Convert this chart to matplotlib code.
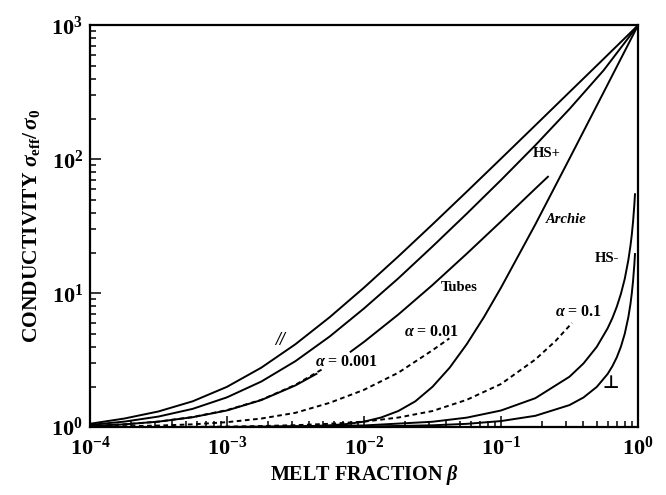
import numpy as np
import matplotlib
matplotlib.use("Agg")
import matplotlib.pyplot as plt
from matplotlib.ticker import FixedLocator, FixedFormatter, LogLocator, NullFormatter

plt.rcParams['font.family'] = ['Liberation Serif', 'DejaVu Serif']
plt.rcParams['font.weight'] = 'bold'
plt.rcParams['mathtext.fontset'] = 'custom'
plt.rcParams['mathtext.rm'] = 'Liberation Serif:bold'
plt.rcParams['mathtext.it'] = 'Liberation Serif:italic:bold'
plt.rcParams['mathtext.bf'] = 'Liberation Serif:bold'

# quarter-decade melt fractions
beta_grid = [1e-4, 1.78e-4, 3.16e-4, 5.62e-4, 1e-3, 1.78e-3, 3.16e-3, 5.62e-3,
             1e-2, 1.78e-2, 3.16e-2, 5.62e-2, 0.1, 0.178, 0.316, 0.562, 1.0]

parallel = [1.06, 1.16, 1.31, 1.56, 2.00, 2.78, 4.16, 6.62,
            11.0, 18.8, 32.6, 57.2, 101, 179, 317, 562, 1000]
hs_plus = [1.04, 1.10, 1.20, 1.37, 1.67, 2.19, 3.11, 4.75,
           7.69, 12.9, 22.3, 39.2, 69.9, 127, 237, 462, 1000]

# tubes line is broken where the alpha=0.001 label sits
tubes_beta = [1e-4, 1.78e-4, 3.16e-4, 5.62e-4, 1e-3, 1.78e-3, 3.16e-3, 4.5e-3, 6e-3,
              8e-3, 1e-2, 1.78e-2, 3.16e-2, 5.62e-2, 0.1, 0.178, 0.22]
tubes = [1.02, 1.05, 1.10, 1.187, 1.333, 1.593, 2.05, 2.5, np.nan,
         3.66, 4.33, 6.93, 11.5, 19.7, 34.3, 60.3, 74.0]

archie_beta = [1e-3, 1.78e-3, 3.16e-3, 5.62e-3, 7.5e-3, 1e-2, 1.33e-2, 1.78e-2, 2.37e-2,
               3.16e-2, 4.22e-2, 5.62e-2, 7.5e-2, 0.1, 0.178, 0.316, 0.562, 1.0]
archie = [1.001, 1.003, 1.01, 1.032, 1.056, 1.10, 1.18, 1.32, 1.56,
          2.00, 2.78, 4.16, 6.62, 11.0, 32.6, 101, 317, 1000]

hs_beta = [1e-3, 1e-2, 3.16e-2, 5.62e-2, 0.1, 0.178, 0.316, 0.4, 0.5, 0.6, 0.65,
           0.7, 0.75, 0.8, 0.85, 0.88, 0.9, 0.92, 0.94, 0.95]
hs_minus = [1.003, 1.03, 1.098, 1.178, 1.332, 1.646, 2.38, 2.99, 3.98, 5.47, 6.52,
            7.93, 9.89, 12.8, 17.7, 22.5, 27.2, 34.2, 45.8, 54.8]
series_perp = [1.0, 1.01, 1.033, 1.059, 1.111, 1.216, 1.462, 1.666, 1.998, 2.496, 2.852,
               3.324, 3.988, 4.98, 6.63, 8.27, 9.92, 12.36, 16.4, 19.6]

a001_beta = [1e-4, 1.78e-4, 3.16e-4, 5.62e-4, 1e-3, 1.78e-3, 3.16e-3, 5e-3]
a001 = [1.02, 1.05, 1.10, 1.19, 1.34, 1.60, 2.07, 2.72]

a01_beta = [1e-4, 1.78e-4, 3.16e-4, 5.62e-4, 1e-3, 1.78e-3, 3.16e-3, 5.62e-3,
            1e-2, 1.78e-2, 3.16e-2, 4.2e-2]
a01 = [1.01, 1.016, 1.028, 1.05, 1.09, 1.16, 1.28, 1.52, 1.9, 2.55, 3.75, 4.6]

a1_beta = [5.62e-4, 1e-3, 1.78e-3, 3.16e-3, 5.62e-3, 1e-2, 1.78e-2, 3.16e-2,
           5.62e-2, 0.1, 0.178, 0.25, 0.33]
a1 = [1.005, 1.01, 1.02, 1.035, 1.06, 1.1, 1.18, 1.32, 1.6, 2.1, 3.2, 4.4, 6.0]

xticks = [1e-4, 1e-3, 1e-2, 1e-1, 1e0]
xtick_labels = [r'$\mathbf{10^{-4}}$', r'$\mathbf{10^{-3}}$', r'$\mathbf{10^{-2}}$',
                r'$\mathbf{10^{-1}}$', r'$\mathbf{10^{0}}$']
yticks = [1e0, 1e1, 1e2, 1e3]
ytick_labels = [r'$\mathbf{10^{0}}$', r'$\mathbf{10^{1}}$', r'$\mathbf{10^{2}}$',
                r'$\mathbf{10^{3}}$']

fig = plt.figure(figsize=(6.66, 4.95), dpi=100)
ax = fig.add_axes([0.135, 0.137, 0.823, 0.812])

lw = 1.4
dash = (0, (2.4, 1.8))
ax.plot(beta_grid, parallel, color='k', lw=lw)
ax.plot(beta_grid, hs_plus, color='k', lw=lw)
ax.plot(tubes_beta, tubes, color='k', lw=lw)
ax.plot(archie_beta, archie, color='k', lw=lw)
ax.plot(hs_beta, hs_minus, color='k', lw=lw)
ax.plot(hs_beta, series_perp, color='k', lw=lw)
ax.plot(a001_beta, a001, color='k', lw=lw, ls=dash)
ax.plot(a01_beta, a01, color='k', lw=lw, ls=dash)
ax.plot(a1_beta, a1, color='k', lw=lw, ls=dash)

ax.set_xscale('log')
ax.set_yscale('log')
ax.set_xlim(1e-4, 1)
ax.set_ylim(1, 1000)

ax.xaxis.set_major_locator(FixedLocator(xticks))
ax.xaxis.set_major_formatter(FixedFormatter(xtick_labels))
ax.yaxis.set_major_locator(FixedLocator(yticks))
ax.yaxis.set_major_formatter(FixedFormatter(ytick_labels))
ax.xaxis.set_minor_locator(LogLocator(base=10, subs=np.arange(2, 10)))
ax.yaxis.set_minor_locator(LogLocator(base=10, subs=np.arange(2, 10)))
ax.xaxis.set_minor_formatter(NullFormatter())
ax.yaxis.set_minor_formatter(NullFormatter())
ax.tick_params(which='both', direction='in', top=False, right=False, width=1.1, labelsize=16)
ax.tick_params(which='major', length=8)
ax.tick_params(which='minor', length=4.5)
ax.tick_params(axis='x', which='major', pad=7)
ax.tick_params(axis='y', which='major', pad=5)
for s in ax.spines.values():
    s.set_linewidth(1.6)

ax.set_xlabel(r'MELT FRACTION $\beta$', fontsize=14.5, fontweight='bold', labelpad=2)
ax.set_ylabel(r'CONDUCTIVITY $\sigma_{\rm eff}/\,\sigma_0$', fontsize=15.5, fontweight='bold', labelpad=7)

lab = dict(transform=ax.transAxes, fontsize=10.5, fontweight='bold', ha='center', va='center')
alab = dict(transform=ax.transAxes, fontsize=11.5, fontweight='bold', ha='center', va='center')
ax.text(0.347, 0.216, '//', style='italic', fontsize=13, transform=ax.transAxes,
        fontweight='bold', ha='center', va='center')
ax.text(0.834, 0.682, 'HS+', **lab)
ax.text(0.868, 0.517, 'Archie', style='italic', **lab)
ax.text(0.673, 0.348, 'Tubes', **lab)
ax.text(0.943, 0.420, 'HS-', **lab)
ax.text(0.951, 0.111, '\u22a5', transform=ax.transAxes, fontsize=13, fontweight='bold',
        ha='center', va='center', family=['DejaVu Sans'])
ax.text(0.469, 0.162, r'$\alpha$ = 0.001', **alab)
ax.text(0.624, 0.236, r'$\alpha$ = 0.01', **alab)
ax.text(0.891, 0.286, r'$\alpha$ = 0.1', **alab)

fig.savefig('out.png', dpi=100)
